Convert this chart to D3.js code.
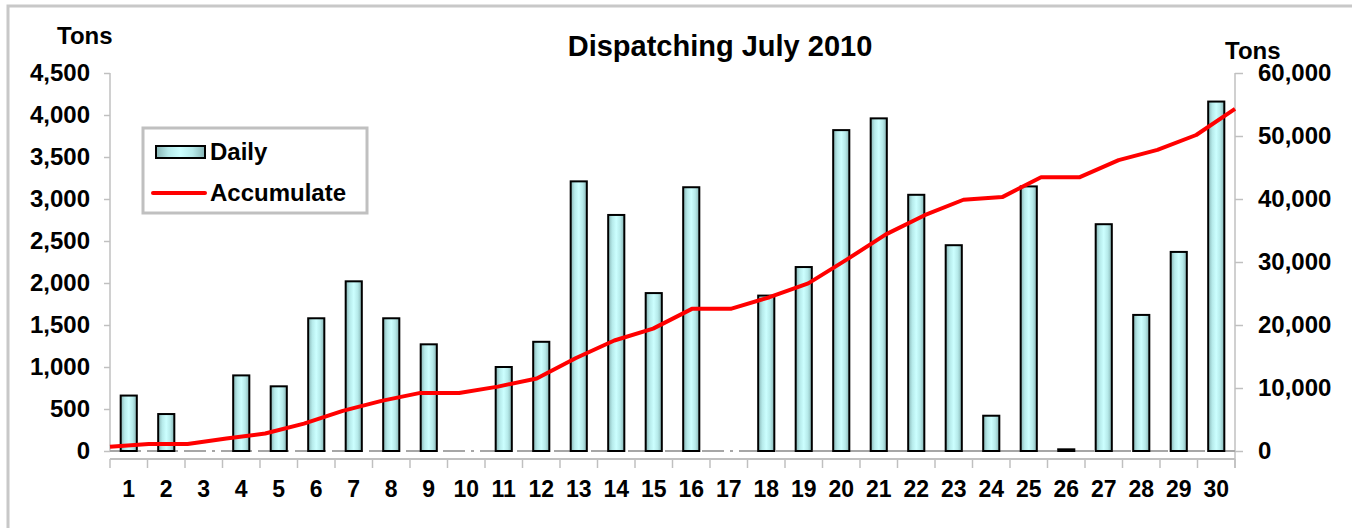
<!DOCTYPE html>
<html>
<head>
<meta charset="utf-8">
<script src="https://cdn.jsdelivr.net/npm/d3@7"></script>
<style>
  body { margin: 0; background: #fff; }
  svg { display: block; font-family: "Liberation Sans", Arial, sans-serif; font-weight: bold; }
</style>
</head>
<body>
<svg id="chart" width="1352" height="528"></svg>
<script>
// days of July
const days = d3.range(1, 31).map(String);
// daily dispatch, tons (left axis)
const daily = [660, 440, 0, 900, 770, 1580, 2020, 1580, 1270, 0,
               1000, 1300, 3210, 2810, 1880, 3140, 0, 1850, 2190, 3820,
               3960, 3050, 2450, 420, 3150, 20, 2700, 1620, 2370, 4160];
// accumulated tons (right axis)
const accumulate = [660, 1100, 1100, 2000, 2770, 4350, 6370, 7950, 9220, 9220,
                    10220, 11520, 14730, 17540, 19420, 22560, 22560, 24410, 26600, 30420,
                    34380, 37430, 39880, 40300, 43450, 43470, 46170, 47790, 50160, 54320];
const leftTicks = [0, 500, 1000, 1500, 2000, 2500, 3000, 3500, 4000, 4500];
const rightTicks = [0, 10000, 20000, 30000, 40000, 50000, 60000];

const plotLeft = 110, plotRight = 1235, plotTop = 73, zeroY = 451;
const axisColor = "#c0c0c0";
const svg = d3.select("#chart");

// outer frame
svg.append("rect").attr("x", 8).attr("y", 6).attr("width", 1360).attr("height", 540)
  .attr("fill", "none").attr("stroke", "#c8c8c8").attr("stroke-width", 3);

// bar gradient
const grad = svg.append("defs").append("linearGradient").attr("id", "barFill")
  .attr("x1", "0%").attr("x2", "100%").attr("y1", "0%").attr("y2", "0%");
grad.append("stop").attr("offset", "0%").attr("stop-color", "#86b3b3");
grad.append("stop").attr("offset", "25%").attr("stop-color", "#b6eaea");
grad.append("stop").attr("offset", "50%").attr("stop-color", "#ccffff");
grad.append("stop").attr("offset", "75%").attr("stop-color", "#b6eaea");
grad.append("stop").attr("offset", "100%").attr("stop-color", "#86b3b3");

const x = d3.scaleBand().domain(days).range([plotLeft, plotRight]).paddingInner(0.57).paddingOuter(0.285);
const xLine = d3.scalePoint().domain(days).range([plotLeft, plotRight]);
const yL = d3.scaleLinear().domain([0, 4500]).range([zeroY, plotTop]);
const yR = d3.scaleLinear().domain([0, 60000]).range([zeroY, plotTop]);
const fmt = d3.format(",");

// left axis
const leftAxis = svg.append("g").attr("transform", `translate(${plotLeft},0)`)
  .call(d3.axisLeft(yL).tickValues(leftTicks).tickFormat(fmt).tickSize(6).tickPadding(14));
// right axis
const rightAxis = svg.append("g").attr("transform", `translate(${plotRight},0)`)
  .call(d3.axisRight(yR).tickValues(rightTicks).tickFormat(fmt).tickSize(8).tickPadding(15));
[leftAxis, rightAxis].forEach(g => {
  g.select(".domain").remove();
  g.selectAll(".tick line").attr("stroke", axisColor).attr("stroke-width", 1.5);
  g.selectAll(".tick text").attr("font-size", 24).attr("font-family", null).attr("fill", "#000");
});
svg.append("line").attr("x1", plotLeft).attr("x2", plotLeft).attr("y1", plotTop).attr("y2", zeroY + 1)
  .attr("stroke", axisColor).attr("stroke-width", 1.5);
svg.append("line").attr("x1", plotRight).attr("x2", plotRight).attr("y1", plotTop).attr("y2", 468)
  .attr("stroke", axisColor).attr("stroke-width", 1.5);

// category axis, set a little below the zero line
const catY = 459;
svg.append("line").attr("x1", plotLeft).attr("x2", plotRight).attr("y1", catY).attr("y2", catY)
  .attr("stroke", axisColor).attr("stroke-width", 2);
svg.append("g").selectAll("line").data(d3.range(0, days.length + 1)).join("line")
  .attr("x1", i => plotLeft + i * x.step()).attr("x2", i => plotLeft + i * x.step())
  .attr("y1", catY).attr("y2", catY + 9)
  .attr("stroke", axisColor).attr("stroke-width", 1.5);
svg.append("g").selectAll("text").data(days).join("text")
  .attr("x", d => x(d) + x.bandwidth() / 2).attr("y", 497)
  .attr("text-anchor", "middle").attr("font-size", 23).text(d => d);

// zero line (dash-dot)
svg.append("line").attr("x1", plotLeft).attr("x2", plotRight).attr("y1", zeroY).attr("y2", zeroY)
  .attr("stroke", "#a6a6a6").attr("stroke-width", 2).attr("stroke-dasharray", "22,6,3,6");

// bars
svg.append("g").selectAll("rect").data(daily).join("rect")
  .attr("x", (d, i) => x(days[i]))
  .attr("y", d => yL(d))
  .attr("width", x.bandwidth())
  .attr("height", d => zeroY - yL(d))
  .attr("fill", "url(#barFill)")
  .attr("stroke", "#000").attr("stroke-width", 2);

// accumulate line
const line = d3.line().x((d, i) => xLine(days[i])).y(d => yR(d));
svg.append("path").datum(accumulate).attr("d", line)
  .attr("fill", "none").attr("stroke", "#ff0000").attr("stroke-width", 4)
  .attr("stroke-linejoin", "round");

// titles
svg.append("text").attr("x", 720).attr("y", 56).attr("text-anchor", "middle")
  .attr("font-size", 29).text("Dispatching July 2010");
svg.append("text").attr("x", 57).attr("y", 44).attr("font-size", 24).text("Tons");
svg.append("text").attr("x", 1225).attr("y", 59).attr("font-size", 24).text("Tons");

// legend
const lg = svg.append("g");
lg.append("rect").attr("x", 143).attr("y", 128).attr("width", 224).attr("height", 85)
  .attr("fill", "#fff").attr("stroke", "#c0c0c0").attr("stroke-width", 3);
lg.append("rect").attr("x", 156).attr("y", 146).attr("width", 49).attr("height", 12)
  .attr("fill", "url(#barFill)").attr("stroke", "#000").attr("stroke-width", 2);
lg.append("text").attr("x", 210).attr("y", 160).attr("font-size", 24).text("Daily");
lg.append("line").attr("x1", 153).attr("x2", 205).attr("y1", 193).attr("y2", 193)
  .attr("stroke", "#ff0000").attr("stroke-width", 4).attr("stroke-linecap", "round");
lg.append("text").attr("x", 210).attr("y", 201).attr("font-size", 24).text("Accumulate");
</script>
</body>
</html>
